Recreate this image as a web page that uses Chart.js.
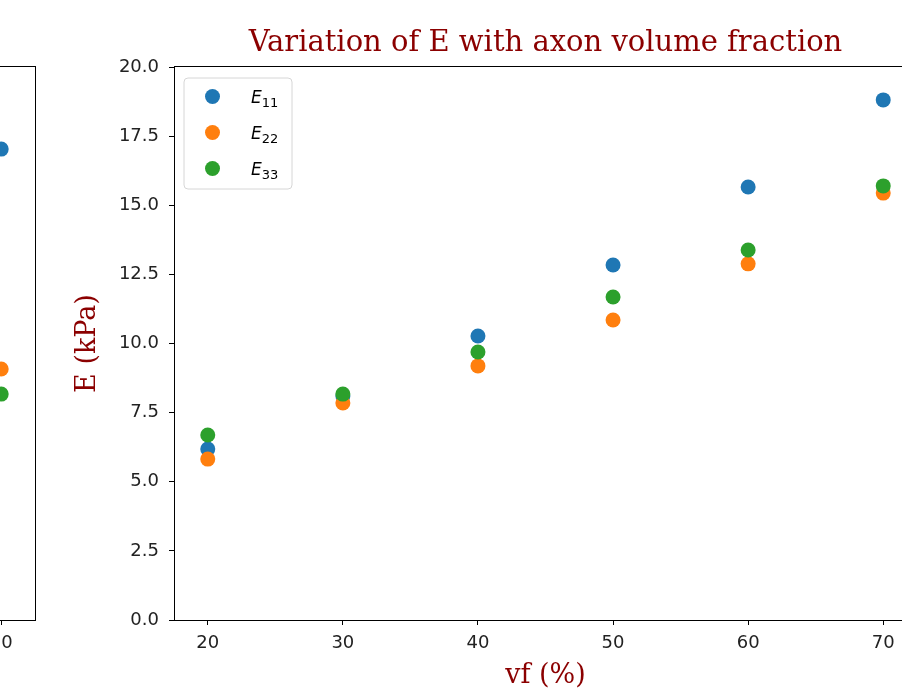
<!DOCTYPE html>
<html>
<head>
  <title>Variation of E with axon volume fraction</title>
  <script src="https://cdn.jsdelivr.net/npm/chart.js"></script>
  <style>
    html, body { margin: 0; padding: 0; background: #fff; overflow: hidden; }
    #wrap { position: relative; width: 902px; height: 692px; overflow: hidden; background: #fff; }
    #leftChart { position: absolute; left: -725px; top: 0; }
    #mainChart { position: absolute; left: 0; top: 0; }
  </style>
</head>
<body>
<div id="wrap">
  <canvas id="leftChart" width="780" height="692"></canvas>
  <canvas id="mainChart" width="960" height="692"></canvas>
</div>
<script>
  // main panel
  const vf = [20, 30, 40, 50, 60, 70];
  const e11 = [6.18, 8.10, 10.27, 12.84, 15.66, 18.81];
  const e22 = [5.82, 7.85, 9.19, 10.85, 12.88, 15.44];
  const e33 = [6.69, 8.17, 9.69, 11.68, 13.38, 15.70];
  const seriesLabels = ['E_11', 'E_22', 'E_33'];
  const seriesColors = ['#1f77b4', '#ff7f0e', '#2ca02c'];
  const xTicks = [20, 30, 40, 50, 60, 70];
  const yTicks = [0, 2.5, 5, 7.5, 10, 12.5, 15, 17.5, 20];

  // neighbouring panel, only its right edge is in the picture
  const leftVf = [70];
  const leftE11 = [17.03];
  const leftE22 = [9.08];
  const leftE33 = [8.17];

  const labelRed = '#8b0000';
  const tickFont = { family: 'DejaVu Sans', size: 18 };
  const serifFont = { family: 'DejaVu Serif', size: 27 };

  function toPoints(xs, ys) {
    return xs.map((x, i) => ({ x: x, y: ys[i] }));
  }

  function makeDatasets(xs, seriesList) {
    // matplotlib draws later series on top, chart.js needs a lower order for that
    return seriesList.map((ys, i) => ({
      label: seriesLabels[i],
      data: toPoints(xs, ys),
      backgroundColor: seriesColors[i],
      borderColor: seriesColors[i],
      borderWidth: 0,
      pointRadius: 7.5,
      pointHoverRadius: 7.5,
      order: seriesList.length - i
    }));
  }

  const framePlugin = {
    id: 'frame',
    afterDraw(chart) {
      const a = chart.chartArea;
      const ctx = chart.ctx;
      ctx.save();
      ctx.strokeStyle = '#000';
      ctx.lineWidth = 1;
      ctx.strokeRect(Math.round(a.left) + 0.5, Math.round(a.top) - 0.5,
        Math.round(a.right - a.left), Math.round(a.bottom - a.top) + 1);
      ctx.restore();
    }
  };

  const legendPlugin = {
    id: 'mplLegend',
    afterDraw(chart) {
      const a = chart.chartArea;
      const ctx = chart.ctx;
      const x0 = a.left + 10, y0 = a.top + 11, w = 108, h = 111, r = 4;
      ctx.save();
      ctx.beginPath();
      ctx.moveTo(x0 + r, y0);
      ctx.lineTo(x0 + w - r, y0);
      ctx.arcTo(x0 + w, y0, x0 + w, y0 + r, r);
      ctx.lineTo(x0 + w, y0 + h - r);
      ctx.arcTo(x0 + w, y0 + h, x0 + w - r, y0 + h, r);
      ctx.lineTo(x0 + r, y0 + h);
      ctx.arcTo(x0, y0 + h, x0, y0 + h - r, r);
      ctx.lineTo(x0, y0 + r);
      ctx.arcTo(x0, y0, x0 + r, y0, r);
      ctx.closePath();
      ctx.fillStyle = 'rgba(255,255,255,0.8)';
      ctx.fill();
      ctx.strokeStyle = '#d6d6d6';
      ctx.lineWidth = 1;
      ctx.stroke();

      chart.data.datasets.forEach((ds, i) => {
        const cy = y0 + 18.5 + i * 36;
        ctx.beginPath();
        ctx.arc(x0 + 28.5, cy, 7.5, 0, Math.PI * 2);
        ctx.fillStyle = ds.backgroundColor;
        ctx.fill();

        const parts = ds.label.split('_');
        ctx.fillStyle = '#000';
        ctx.textBaseline = 'alphabetic';
        ctx.textAlign = 'left';
        ctx.font = 'italic 17px "DejaVu Sans"';
        const tx = x0 + 67;
        ctx.fillText(parts[0], tx, cy + 6);
        const ew = ctx.measureText(parts[0]).width;
        ctx.font = '13px "DejaVu Sans"';
        ctx.fillText(parts[1], tx + ew, cy + 10);
      });
      ctx.restore();
    }
  };

  function xScale(showTitle) {
    return {
      type: 'linear',
      min: 17.5,
      max: 72.5,
      afterBuildTicks: s => { s.ticks = xTicks.map(v => ({ value: v })); },
      afterFit: s => { s.height = 72; },
      ticks: { color: '#222', font: tickFont, padding: 8, maxRotation: 0, autoSkip: false },
      grid: { drawOnChartArea: false, tickLength: 5, tickColor: '#000', tickWidth: 1 },
      border: { color: '#000', width: 1 },
      title: {
        display: showTitle,
        text: 'vf (%)',
        color: labelRed,
        font: serifFont,
        padding: { top: 0, bottom: 0 }
      }
    };
  }

  new Chart(document.getElementById('mainChart'), {
    type: 'scatter',
    data: { datasets: makeDatasets(vf, [e11, e22, e33]) },
    options: {
      responsive: false,
      animation: false,
      devicePixelRatio: 1,
      layout: { padding: { left: 0, right: 43, top: 0, bottom: 0 } },
      plugins: {
        legend: { display: false },
        tooltip: { enabled: false },
        title: {
          display: true,
          text: 'Variation of E with axon volume fraction',
          fullSize: false,
          color: labelRed,
          font: { family: 'DejaVu Serif', size: 29, weight: 'normal' },
          padding: { top: 26, bottom: 6.2 }
        }
      },
      scales: {
        x: xScale(true),
        y: {
          type: 'linear',
          min: 0,
          max: 20,
          afterBuildTicks: s => { s.ticks = yTicks.map(v => ({ value: v })); },
          afterFit: s => { s.width = 174; },
          ticks: {
            color: '#222',
            font: tickFont,
            padding: 10,
            callback: v => Number(v).toFixed(1)
          },
          grid: { drawOnChartArea: false, tickLength: 5, tickColor: '#000', tickWidth: 1 },
          border: { color: '#000', width: 1 },
          title: {
            display: true,
            text: 'E (kPa)',
            color: labelRed,
            font: serifFont,
            padding: { top: 72, bottom: 0 }
          }
        }
      }
    },
    plugins: [framePlugin, legendPlugin]
  });

  new Chart(document.getElementById('leftChart'), {
    type: 'scatter',
    data: { datasets: makeDatasets(leftVf, [leftE11, leftE22, leftE33]) },
    options: {
      responsive: false,
      animation: false,
      devicePixelRatio: 1,
      layout: { padding: { left: 16.25, right: 20, top: 67, bottom: 0 } },
      plugins: {
        legend: { display: false },
        tooltip: { enabled: false }
      },
      scales: {
        x: xScale(false),
        y: { type: 'linear', min: 0, max: 20, display: false }
      }
    },
    plugins: [framePlugin]
  });
</script>
</body>
</html>
